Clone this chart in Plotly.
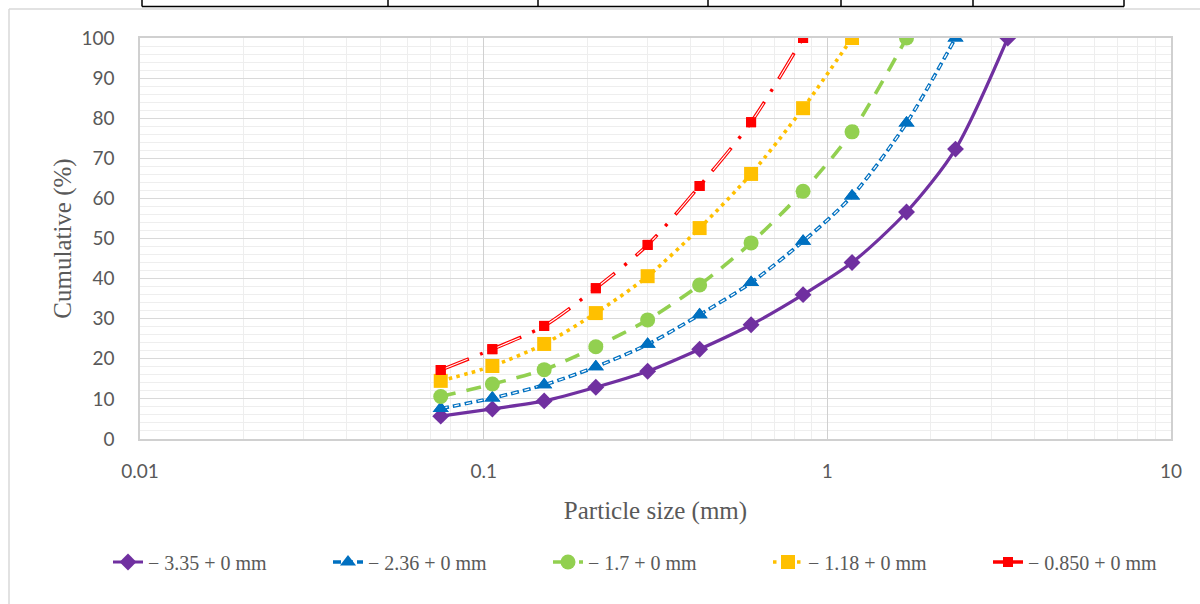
import plotly.graph_objects as go

# ---------------- data ----------------
sizes_mm = [0.075, 0.106, 0.150, 0.212, 0.300, 0.425, 0.600, 0.850, 1.18, 1.70, 2.36, 3.35]

s335 = [5.7, 7.5, 9.5, 12.9, 16.9, 22.4, 28.5, 36.0, 44.0, 56.6, 72.3, 100.0]
s236 = [7.6, 10.2, 13.5, 18.0, 23.6, 31.0, 39.0, 49.3, 60.6, 78.8, 100.0]
s170 = [10.6, 13.7, 17.3, 23.0, 29.7, 38.4, 48.9, 61.8, 76.6, 100.0]
s118 = [14.5, 18.2, 23.7, 31.4, 40.6, 52.6, 66.1, 82.5, 100.0]
s085 = [17.2, 22.4, 28.2, 37.6, 48.4, 63.1, 79.0, 100.0]

names = ["\u2212 3.35 + 0 mm", "\u2212 2.36 + 0 mm", "\u2212 1.7 + 0 mm",
         "\u2212 1.18 + 0 mm", "\u2212 0.850 + 0 mm"]

x_ticks = [0.01, 0.1, 1, 10]
x_ticktext = ["0.01", "0.1", "1", "10"]

PURPLE = "#7030A0"
BLUE = "#0070C0"
GREEN = "#92D050"
YELLOW = "#FFC000"
RED = "#FF0000"
GREY = "#595959"

fig = go.Figure()

def xs(vals):
    return sizes_mm[:len(vals)]

# -- 3.35 : solid purple, diamonds
fig.add_trace(go.Scatter(
    x=xs(s335), y=s335, name=names[0], mode="lines+markers",
    line=dict(color=PURPLE, width=3.2, shape="spline", smoothing=0.8),
    marker=dict(symbol="diamond", size=13, color=PURPLE)))

# -- 2.36 : compound dashed blue, triangles
fig.add_trace(go.Scatter(
    x=xs(s236), y=s236, name=names[1], mode="lines+markers",
    line=dict(color=BLUE, width=3.6, dash="8px,4px", shape="spline", smoothing=0.8),
    marker=dict(symbol="triangle-up", size=14, color=BLUE)))
fig.add_trace(go.Scatter(
    x=xs(s236), y=s236, mode="lines", showlegend=False, hoverinfo="skip",
    line=dict(color="white", width=1.3, dash="0px,1.5px,5px,5.5px", shape="spline", smoothing=0.8)))
fig.add_trace(go.Scatter(
    x=xs(s236), y=s236, mode="markers", showlegend=False, hoverinfo="skip",
    marker=dict(symbol="triangle-up", size=14, color=BLUE)))

# -- 1.7 : dashed green, circles
fig.add_trace(go.Scatter(
    x=xs(s170), y=s170, name=names[2], mode="lines+markers",
    line=dict(color=GREEN, width=3.6, dash="15px,11px", shape="spline", smoothing=0.8),
    marker=dict(symbol="circle", size=15, color=GREEN)))

# -- 1.18 : dotted yellow, squares
fig.add_trace(go.Scatter(
    x=xs(s118), y=s118, name=names[3], mode="lines+markers",
    line=dict(color=YELLOW, width=3.6, dash="3.5px,4.5px", shape="spline", smoothing=0.8),
    marker=dict(symbol="square", size=14, color=YELLOW)))

# -- 0.850 : compound dash-dot red, small squares
fig.add_trace(go.Scatter(
    x=xs(s085), y=s085, name=names[4], mode="lines+markers",
    line=dict(color=RED, width=3.4, dash="30px,12px,3px,12px", shape="spline", smoothing=0.8),
    marker=dict(symbol="square", size=10, color=RED)))
fig.add_trace(go.Scatter(
    x=xs(s085), y=s085, mode="lines", showlegend=False, hoverinfo="skip",
    line=dict(color="white", width=1.1, dash="0px,1.5px,27px,28.5px", shape="spline", smoothing=0.8)))
fig.add_trace(go.Scatter(
    x=xs(s085), y=s085, mode="markers", showlegend=False, hoverinfo="skip",
    marker=dict(symbol="square", size=10, color=RED)))

# decorative frame and table remnant at top (pixel -> paper fraction helpers)
L, R, T, B = 140, 1171, 38, 439
def px(x):
    return (x - L) / (R - L)
def py(y):
    return (B - y) / (B - T)

shapes = []
# outer chart border (left and top)
shapes.append(dict(type="line", xref="paper", yref="paper", x0=px(9), x1=px(1205), y0=py(9), y1=py(9),
                   line=dict(color="#d9d9d9", width=1.5)))
shapes.append(dict(type="line", xref="paper", yref="paper", x0=px(9), x1=px(9), y0=py(9), y1=py(610),
                   line=dict(color="#d9d9d9", width=1.5)))
# table fragment at the top
shapes.append(dict(type="line", xref="paper", yref="paper", x0=px(142), x1=px(1124), y0=py(6.5), y1=py(6.5),
                   line=dict(color="black", width=1.5)))
for xv in [142, 388, 538, 708, 841, 973, 1124]:
    shapes.append(dict(type="line", xref="paper", yref="paper", x0=px(xv), x1=px(xv), y0=py(-2), y1=py(6.5),
                       line=dict(color="black", width=1.5)))

fig.update_layout(
    width=1200, height=604,
    margin=dict(l=L, r=1200 - R, t=T, b=604 - B, autoexpand=False),
    paper_bgcolor="white", plot_bgcolor="white",
    font=dict(family="Lato, sans-serif", size=19, color=GREY),
    showlegend=True,
    legend=dict(orientation="h", x=px(108), xanchor="left", y=py(562), yanchor="middle",
                font=dict(family="Liberation Serif, Times New Roman, serif", size=20, color=GREY),
                entrywidth=175, itemwidth=30, bgcolor="rgba(0,0,0,0)"),
    shapes=shapes,
)

fig.update_xaxes(
    type="log", range=[-2, 1],
    tickvals=x_ticks, ticktext=x_ticktext,
    showgrid=True, gridcolor="#d0d0d0", gridwidth=1.3,
    minor=dict(dtick="D1", showgrid=True, gridcolor="#eeeeee", gridwidth=1.3, ticks=""),
    showline=True, linecolor="#d0d0d0", linewidth=1.5, mirror=True,
    ticks="", ticklabelstandoff=14,
    tickfont=dict(family="Lato, sans-serif", size=19, color=GREY),
    zeroline=False,
    title=dict(text="Particle size (mm)", standoff=21,
               font=dict(family="Liberation Serif, Times New Roman, serif", size=25, color=GREY)),
)

fig.update_yaxes(
    range=[0, 100], dtick=10,
    showgrid=True, gridcolor="#d9d9d9", gridwidth=1.3,
    minor=dict(dtick=2, showgrid=True, gridcolor="#eeeeee", gridwidth=1.3, ticks=""),
    showline=True, linecolor="#d0d0d0", linewidth=1.5, mirror=True,
    ticks="", ticklabelstandoff=20,
    tickfont=dict(family="Lato, sans-serif", size=19, color=GREY),
    zeroline=False,
    title=dict(text="Cumulative (%)", standoff=3,
               font=dict(family="Liberation Serif, Times New Roman, serif", size=25, color=GREY)),
)

fig.write_html("out.html", config={"displayModeBar": False},
               post_script="document.body.style.margin='0';document.body.style.overflow='hidden';")
